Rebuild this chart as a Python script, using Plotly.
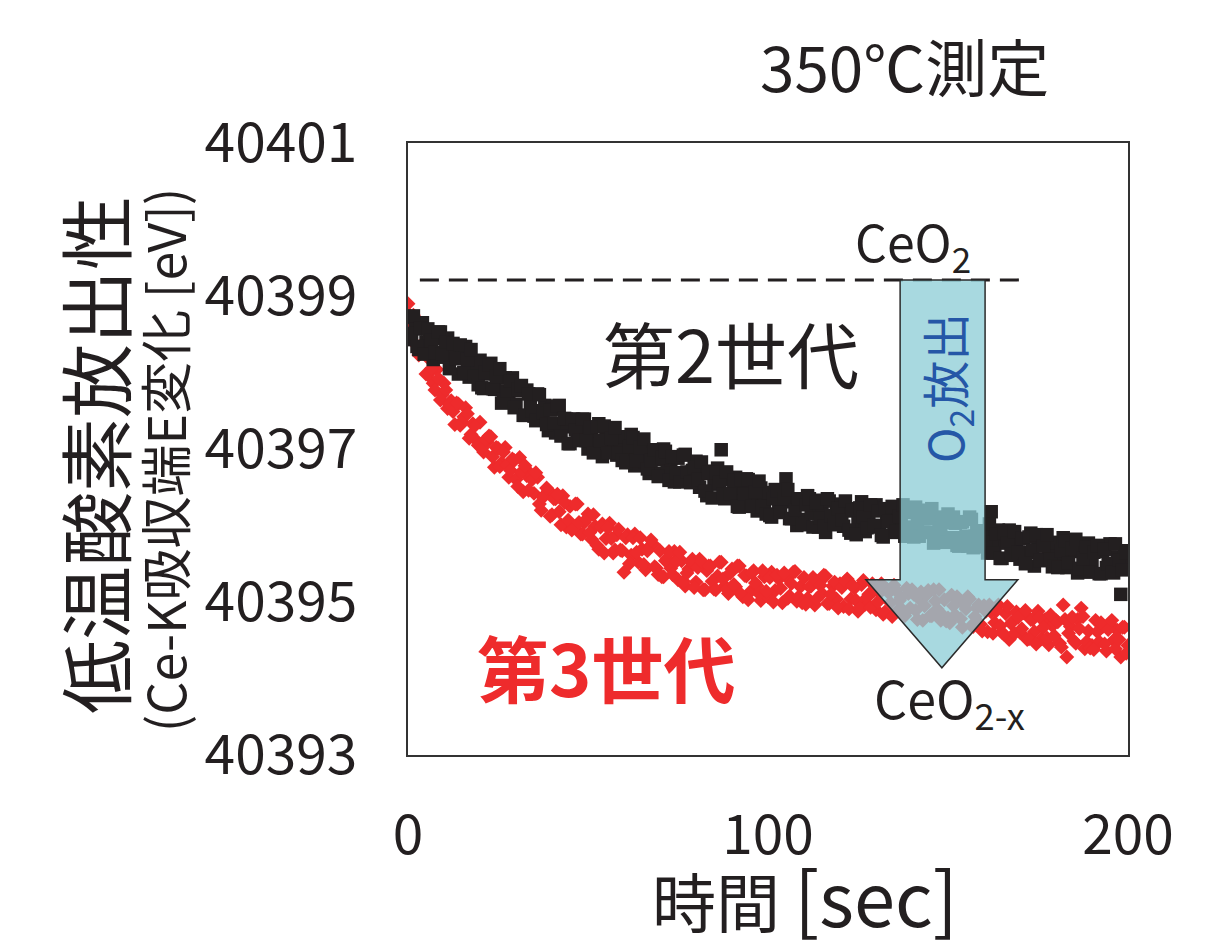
import plotly.graph_objects as go

# Time axes [sec]: readings on the whole second and on the half second
time_sec = list(range(201))
time_half_sec = [t + 0.5 for t in range(200)]

# Ce-K absorption edge energy [eV], 2nd generation material
gen2_ev = [
    40398.72, 40398.43, 40398.57, 40398.30, 40398.65, 40398.40, 40398.52, 40398.17, 40398.44, 40398.53,
    40398.20, 40398.45, 40398.19, 40398.33, 40397.98, 40398.21, 40398.34, 40397.94, 40398.08, 40397.95,
    40398.16, 40397.79, 40397.98, 40398.12, 40397.78, 40397.94, 40397.60, 40397.93, 40397.73, 40397.93,
    40397.58, 40397.76, 40397.44, 40397.77, 40397.60, 40397.43, 40397.72, 40397.43, 40397.57, 40397.24,
    40397.52, 40397.21, 40397.57, 40397.29, 40397.39, 40397.07, 40397.39, 40397.13, 40397.27, 40397.39,
    40397.00, 40397.21, 40397.06, 40397.33, 40396.90, 40397.21, 40397.06, 40397.23, 40396.92, 40397.11,
    40397.16, 40396.89, 40397.19, 40396.78, 40396.98, 40397.10, 40396.83, 40396.68, 40396.97, 40396.86,
    40396.68, 40397.00, 40396.76, 40396.86, 40396.57, 40396.88, 40396.62, 40396.93, 40396.64, 40396.72,
    40396.84, 40396.50, 40396.68, 40396.39, 40396.71, 40396.54, 40396.75, 40396.99, 40396.35, 40396.60,
    40396.40, 40396.63, 40396.24, 40396.49, 40396.61, 40396.27, 40396.40, 40396.19, 40396.49, 40396.28,
    40396.43, 40396.11, 40396.47, 40396.21, 40396.31, 40396.61, 40396.09, 40396.33, 40396.00, 40396.34,
    40396.08, 40396.39, 40396.16, 40396.33, 40395.98, 40396.23, 40395.91, 40396.32, 40396.06, 40396.16,
    40396.28, 40395.99, 40396.19, 40395.90, 40396.22, 40396.05, 40396.31, 40395.92, 40396.11, 40395.98,
    40396.27, 40396.00, 40395.85, 40396.17, 40396.10, 40395.91, 40396.23, 40396.02, 40395.86, 40396.17,
    40395.98, 40396.24, 40395.86, 40396.09, 40395.91, 40396.16, 40395.77, 40396.10, 40396.00, 40395.84,
    40396.15, 40395.84, 40396.03, 40395.73, 40396.05, 40395.86, 40396.11, 40395.71, 40395.91, 40395.75,
    40395.93, 40395.64, 40396.18, 40395.73, 40395.94, 40395.57, 40395.82, 40395.94, 40395.61, 40395.75,
    40395.56, 40395.83, 40395.65, 40395.90, 40395.47, 40395.76, 40395.56, 40395.82, 40395.64, 40395.46,
    40395.78, 40395.54, 40395.84, 40395.45, 40395.66, 40395.72, 40395.38, 40395.67, 40395.47, 40395.77,
    40395.51, 40395.73, 40395.37, 40395.66, 40395.45, 40395.76, 40395.38, 40395.59, 40395.10, 40395.67,
    40395.50,
]
gen2_half_ev = [
    40398.51, 40398.74, 40398.34, 40398.58, 40398.24, 40398.57, 40398.42, 40398.26, 40398.53, 40398.24,
    40398.40, 40398.05, 40398.38, 40398.18, 40398.36, 40398.00, 40398.17, 40398.30, 40397.95, 40397.84,
    40397.80, 40398.00, 40398.10, 40397.79, 40397.95, 40398.05, 40397.65, 40397.76, 40397.89, 40397.54,
    40397.78, 40397.83, 40397.44, 40397.72, 40397.50, 40397.37, 40397.71, 40397.47, 40397.32, 40397.51,
    40397.34, 40397.56, 40397.17, 40397.40, 40397.07, 40397.39, 40397.25, 40397.11, 40397.39, 40397.11,
    40397.28, 40396.95, 40397.29, 40397.11, 40397.30, 40396.95, 40397.14, 40397.28, 40396.95, 40396.85,
    40396.82, 40397.03, 40397.15, 40396.85, 40397.02, 40397.13, 40396.74, 40396.85, 40396.99, 40396.64,
    40396.89, 40396.97, 40396.59, 40396.90, 40396.69, 40396.57, 40396.92, 40396.70, 40396.56, 40396.76,
    40396.60, 40396.83, 40396.45, 40396.69, 40396.36, 40396.69, 40396.56, 40396.41, 40396.70, 40396.42,
    40396.59, 40396.25, 40396.60, 40396.41, 40396.60, 40396.25, 40396.44, 40396.58, 40396.25, 40396.15,
    40396.13, 40396.35, 40396.46, 40396.17, 40396.35, 40396.47, 40396.09, 40396.20, 40396.35, 40396.01,
    40396.27, 40396.35, 40395.98, 40396.30, 40396.10, 40395.99, 40396.35, 40396.13, 40396.01, 40396.22,
    40396.07, 40396.32, 40395.94, 40396.20, 40395.88, 40396.23, 40396.11, 40395.97, 40396.27, 40396.00,
    40396.19, 40395.87, 40396.22, 40396.05, 40396.25, 40395.92, 40396.12, 40396.27, 40395.95, 40395.86,
    40395.85, 40396.07, 40396.20, 40395.91, 40396.09, 40396.22, 40395.84, 40395.96, 40396.11, 40395.78,
    40396.04, 40396.11, 40395.74, 40396.04, 40395.84, 40395.73, 40396.08, 40395.86, 40395.72, 40395.93,
    40395.78, 40396.02, 40395.64, 40395.89, 40395.57, 40395.90, 40395.77, 40395.63, 40395.92, 40395.65,
    40395.83, 40395.50, 40395.85, 40395.68, 40395.88, 40395.54, 40395.73, 40395.88, 40395.56, 40395.47,
    40395.45, 40395.67, 40395.80, 40395.51, 40395.70, 40395.82, 40395.44, 40395.57, 40395.72, 40395.39,
    40395.65, 40395.74, 40395.37, 40395.69, 40395.50, 40395.39, 40395.76, 40395.55, 40395.42, 40395.64,
]

# Ce-K absorption edge energy [eV], 3rd generation material
gen3_ev = [
    40398.90, 40398.62, 40398.67, 40398.23, 40398.31, 40397.98, 40398.17, 40397.86, 40398.04, 40397.64,
    40397.86, 40397.53, 40397.63, 40397.32, 40397.59, 40397.36, 40397.54, 40397.14, 40397.33, 40397.11,
    40397.35, 40396.96, 40397.09, 40397.16, 40396.76, 40397.01, 40396.82, 40397.02, 40396.63, 40396.87,
    40396.60, 40396.89, 40396.44, 40396.65, 40396.68, 40396.42, 40396.63, 40396.20, 40396.40, 40396.46,
    40396.14, 40396.35, 40396.18, 40396.39, 40395.98, 40396.25, 40395.99, 40396.28, 40395.89, 40396.04,
    40396.15, 40395.82, 40395.99, 40395.69, 40396.02, 40395.83, 40396.03, 40395.64, 40395.88, 40395.68,
    40395.39, 40395.88, 40395.61, 40395.89, 40395.52, 40395.69, 40395.42, 40395.72, 40395.76, 40395.44,
    40395.67, 40395.33, 40395.57, 40395.44, 40395.66, 40395.29, 40395.54, 40395.21, 40395.43, 40395.56,
    40395.26, 40395.56, 40395.16, 40395.41, 40395.47, 40395.17, 40395.34, 40395.52, 40395.21, 40395.11,
    40395.43, 40395.20, 40395.47, 40395.07, 40395.34, 40395.13, 40395.41, 40395.21, 40395.02, 40395.33,
    40395.07, 40395.39, 40395.15, 40395.30, 40394.99, 40395.33, 40395.08, 40395.39, 40395.01, 40395.20,
    40395.32, 40395.05, 40395.21, 40394.96, 40395.27, 40395.11, 40395.34, 40394.98, 40395.21, 40395.04,
    40395.24, 40394.94, 40395.30, 40395.04, 40395.18, 40394.88, 40395.23, 40394.97, 40395.10, 40395.24,
    40394.90, 40395.12, 40394.84, 40395.17, 40394.99, 40395.22, 40394.89, 40395.06, 40394.82, 40395.11,
    40395.16, 40394.89, 40395.04, 40394.76, 40395.09, 40394.82, 40395.16, 40394.91, 40394.76, 40395.03,
    40394.79, 40395.09, 40394.83, 40395.04, 40394.67, 40394.91, 40395.04, 40394.68, 40394.92, 40394.71,
    40394.95, 40394.61, 40394.87, 40394.73, 40394.96, 40394.60, 40394.85, 40394.51, 40394.75, 40394.87,
    40394.60, 40394.86, 40394.51, 40394.77, 40394.61, 40394.88, 40394.52, 40394.77, 40394.44, 40394.69,
    40394.76, 40394.46, 40394.96, 40394.28, 40394.68, 40394.49, 40394.77, 40394.92, 40394.39, 40394.62,
    40394.43, 40394.76, 40394.48, 40394.68, 40394.36, 40394.71, 40394.50, 40394.63, 40394.28, 40394.67,
    40394.43,
]
gen3_half_ev = [
    40398.75, 40398.75, 40398.35, 40398.35, 40398.30, 40397.97, 40398.05, 40397.77, 40397.92, 40397.71,
    40397.77, 40397.58, 40397.49, 40397.60, 40397.31, 40397.42, 40397.46, 40397.19, 40397.30, 40397.05,
    40397.01, 40397.12, 40397.17, 40396.90, 40397.02, 40396.77, 40396.96, 40396.79, 40396.72, 40396.85,
    40396.51, 40396.70, 40396.78, 40396.46, 40396.60, 40396.69, 40396.28, 40396.37, 40396.49, 40396.12,
    40396.35, 40396.41, 40396.01, 40396.30, 40396.07, 40395.94, 40396.28, 40396.04, 40395.89, 40396.08,
    40395.91, 40396.14, 40395.74, 40395.98, 40395.64, 40395.97, 40395.83, 40395.68, 40395.95, 40395.67,
    40395.84, 40395.50, 40395.84, 40395.65, 40395.84, 40395.49, 40395.67, 40395.81, 40395.46, 40395.36,
    40395.33, 40395.54, 40395.66, 40395.36, 40395.53, 40395.65, 40395.27, 40395.38, 40395.53, 40395.19,
    40395.45, 40395.53, 40395.16, 40395.47, 40395.27, 40395.16, 40395.52, 40395.30, 40395.17, 40395.38,
    40395.23, 40395.47, 40395.10, 40395.35, 40395.03, 40395.38, 40395.25, 40395.11, 40395.41, 40395.14,
    40395.32, 40395.00, 40395.35, 40395.18, 40395.38, 40395.05, 40395.24, 40395.40, 40395.07, 40394.99,
    40394.97, 40395.20, 40395.32, 40395.04, 40395.22, 40395.35, 40394.98, 40395.10, 40395.26, 40394.92,
    40395.19, 40395.27, 40394.91, 40395.22, 40395.02, 40394.92, 40395.28, 40395.06, 40394.93, 40395.15,
    40395.00, 40395.24, 40394.87, 40395.12, 40394.81, 40395.15, 40395.02, 40394.89, 40395.18, 40394.92,
    40395.10, 40394.77, 40395.13, 40394.95, 40395.15, 40394.82, 40395.01, 40395.16, 40394.83, 40394.75,
    40394.73, 40394.95, 40395.07, 40394.78, 40394.96, 40395.07, 40394.69, 40394.81, 40394.96, 40394.62,
    40394.88, 40394.96, 40394.59, 40394.89, 40394.69, 40394.58, 40394.94, 40394.72, 40394.59, 40394.80,
    40394.65, 40394.89, 40394.52, 40394.77, 40394.45, 40394.80, 40394.67, 40394.53, 40394.83, 40394.56,
    40394.74, 40394.41, 40394.77, 40394.59, 40394.80, 40394.46, 40394.65, 40394.81, 40394.48, 40394.40,
    40394.38, 40394.61, 40394.73, 40394.45, 40394.64, 40394.76, 40394.39, 40394.51, 40394.67, 40394.33,
]

x_ticks = [0, 100, 200]
y_ticks = [40393, 40395, 40397, 40399, 40401]
y_tick_text = ["40393", "40395", "40397", "40399", "40401"]

# Reference level for the fully oxidised state, and the release arrow outline
ceo2_level = 40399.21
ceo2_line_span = (3.3, 171.5)
arrow_shaft = (136.7, 160.3)
arrow_head = (127.2, 169.4)
arrow_head_base = 40395.29
arrow_tip = (148.3, 40394.14)

FONT = "Noto Sans CJK JP"
BLACK = "#231f20"
RED = "#ee2b2c"

fig = go.Figure()

fig.add_trace(go.Scatter(
    x=time_sec + time_half_sec, y=gen3_ev + gen3_half_ev, mode="markers",
    marker=dict(symbol="diamond", size=11.5, color=RED, line=dict(width=0)),
    showlegend=False, hoverinfo="skip",
))
fig.add_trace(go.Scatter(
    x=time_sec + time_half_sec, y=gen2_ev + gen2_half_ev, mode="markers",
    marker=dict(symbol="square", size=13.5, color=BLACK, line=dict(width=0)),
    showlegend=False, hoverinfo="skip",
))

# Dashed CeO2 reference line
fig.add_shape(type="line", xref="x", yref="y",
              x0=ceo2_line_span[0], x1=ceo2_line_span[1], y0=ceo2_level, y1=ceo2_level,
              line=dict(color=BLACK, width=3, dash="19px,10px"), layer="above")

# Block arrow for oxygen release
sx0, sx1 = arrow_shaft
hx0, hx1 = arrow_head
tx, ty = arrow_tip
arrow_path = (f"M {sx0},{ceo2_level} L {sx1},{ceo2_level} L {sx1},{arrow_head_base} "
              f"L {hx1},{arrow_head_base} L {tx},{ty} L {hx0},{arrow_head_base} "
              f"L {sx0},{arrow_head_base} Z")
fig.add_shape(type="path", xref="x", yref="y", path=arrow_path,
              fillcolor="rgba(141,205,214,0.76)",
              line=dict(color="#2b2b2b", width=1.5), layer="above")


def label(x, y, text, size, color=BLACK, ref="data", angle=0, yanchor="middle"):
    xr, yr = ("x", "y") if ref == "data" else ("paper", "paper")
    return dict(x=x, y=y, xref=xr, yref=yr, text=text, textangle=angle,
                xanchor="center", yanchor=yanchor, showarrow=False,
                font=dict(family=FONT, size=size, color=color))


ann = [
    label(140.3, 40399.69, "CeO<sub>2</sub>", 50),
    label(150.5, 40393.72, "CeO<sub>2-x</sub>", 52),
    label(89.7, 40398.28, "第2世代", 72),
    label(55.0, 40394.17, "<b>第3世代</b>", 72, color=RED),
    label(149.5, 40397.8, "O<sub>2</sub>放出", 48, color="#2557a7", angle=-90),
    label(0.690, 1.127, "350℃測定", 62, ref="paper"),
    label(0.551, -0.137, "時間 <span style='font-size:74px'>[sec]</span>", 64,
          ref="paper", yanchor="top"),
    label(-0.439, 0.49, "低温酸素放出性", 74, ref="paper", angle=-90),
    label(-0.340, 0.482, "(Ce-K吸収端E変化 [eV])", 52, ref="paper", angle=-90),
]

fig.update_layout(
    width=1209, height=943, autosize=False,
    margin=dict(l=408, r=81, t=143, b=188),
    paper_bgcolor="white", plot_bgcolor="white",
    annotations=ann,
    font=dict(family=FONT, color=BLACK),
)
fig.update_xaxes(range=[0, 200], tickvals=x_ticks, ticks="", showgrid=False, zeroline=False,
                 showline=True, mirror=True, linecolor="#333333", linewidth=1.5,
                 tickfont=dict(family=FONT, size=55, color=BLACK), ticklabelstandoff=31)
fig.update_yaxes(range=[40393, 40401], tickvals=y_ticks, ticktext=y_tick_text, ticks="",
                 showgrid=False, zeroline=False,
                 showline=True, mirror=True, linecolor="#333333", linewidth=1.5,
                 tickfont=dict(family=FONT, size=55, color=BLACK), ticklabelstandoff=38)

fig.write_html("out.html")
